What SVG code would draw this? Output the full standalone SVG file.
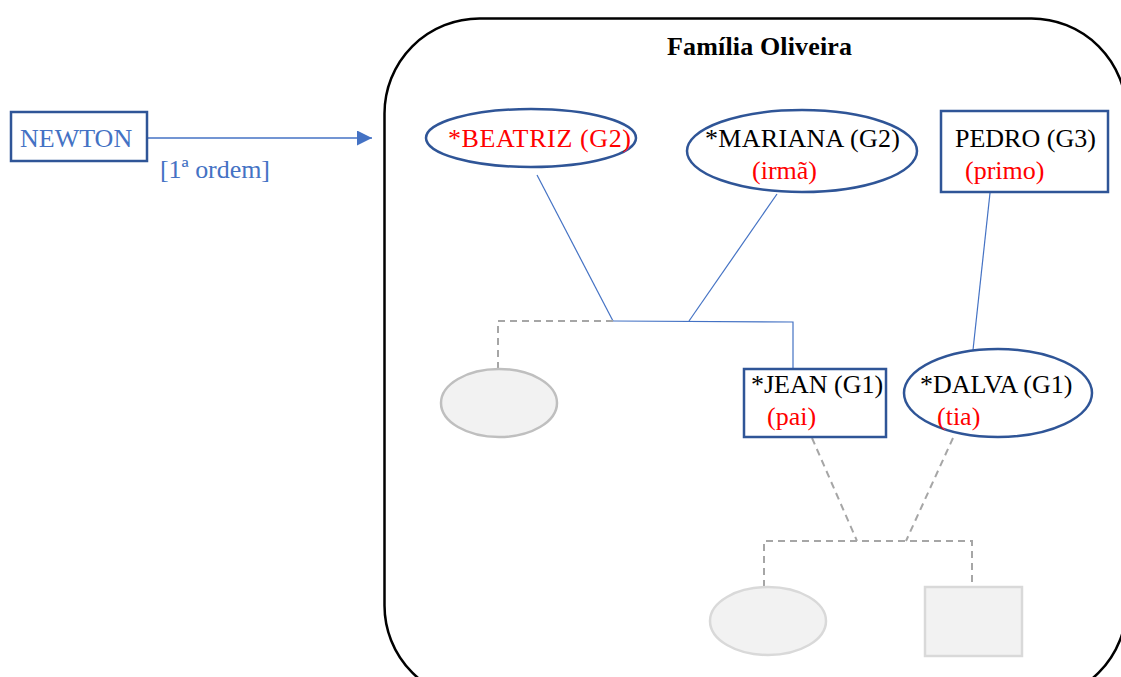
<svg xmlns="http://www.w3.org/2000/svg" width="1121" height="677" viewBox="0 0 1121 677">
<defs>
<marker id="arr" viewBox="0 0 10 10" refX="10" refY="5" markerWidth="15" markerHeight="15" markerUnits="userSpaceOnUse" orient="auto">
<path d="M0,0 L10,5 L0,10 z" fill="#4472C4"/>
</marker>
<style>
text{font-family:"Liberation Serif","Times New Roman",serif;font-size:26px;fill:#000}
.red{fill:#FF0000}
.blue{fill:#4472C4}
.node{fill:#fff;stroke:#2F5597;stroke-width:2.5}
.ghost{fill:#F2F2F2;stroke:#BFBFBF;stroke-width:2.5}
.ghost2{fill:#F2F2F2;stroke:#D9D9D9;stroke-width:2.5}
.link{fill:none;stroke:#4472C4;stroke-width:1.2}
.dash{fill:none;stroke:#A6A6A6;stroke-width:2;stroke-dasharray:7 5}
</style>
</defs>
<rect width="1121" height="677" fill="#fff"/>
<g id="familia">
<rect x="384.5" y="18.5" width="742" height="682" rx="95" ry="95" fill="none" stroke="#000" stroke-width="2.5"/>
<text x="667" y="55" font-weight="bold" textLength="185">Família Oliveira</text>
</g>
<g id="connectors">
<line x1="148" y1="138" x2="372" y2="138" stroke="#4472C4" stroke-width="1.5" marker-end="url(#arr)"/>
<text class="blue" x="160" y="178" font-family="Liberation Serif, serif" textLength="110">[1ª ordem]</text>
<polyline class="link" points="537,175 613,321"/>
<polyline class="link" points="777,194 689,321"/>
<polyline class="link" points="613,321 793,322 793,369"/>
<polyline class="link" points="990,193 973,350"/>
<polyline class="dash" points="613,321 498,321 498,369"/>
<polyline class="dash" points="812,438 857,541"/>
<polyline class="dash" points="953,438 906,541"/>
<polyline class="dash" points="764,587 764,541 972,541 972,587"/>
</g>
<g id="newton">
<rect class="node" x="11" y="112" width="136" height="49"/>
<text class="blue" x="20" y="147">NEWTON</text>
</g>
<g id="beatriz">
<ellipse class="node" cx="531" cy="138" rx="105" ry="29"/>
<text class="red" x="448" y="147" textLength="183">*BEATRIZ (G2)</text>
</g>
<g id="mariana">
<ellipse class="node" cx="802" cy="151" rx="115" ry="41"/>
<text x="705" y="147" textLength="195">*MARIANA (G2)</text>
<text class="red" x="752" y="179">(irmã)</text>
</g>
<g id="pedro">
<rect class="node" x="941" y="111" width="167" height="81"/>
<text x="955" y="147">PEDRO (G3)</text>
<text class="red" x="965" y="179">(primo)</text>
</g>
<g id="ghost-left">
<ellipse class="ghost" cx="499" cy="403" rx="58" ry="34"/>
</g>
<g id="jean">
<rect class="node" x="744" y="369" width="142" height="68"/>
<text x="751" y="393">*JEAN (G1)</text>
<text class="red" x="767" y="425">(pai)</text>
</g>
<g id="dalva">
<ellipse class="node" cx="998" cy="393" rx="94" ry="44"/>
<text x="920" y="393">*DALVA (G1)</text>
<text class="red" x="937" y="425">(tia)</text>
</g>
<g id="ghost-child-1">
<ellipse class="ghost2" cx="768" cy="621" rx="58" ry="34"/>
</g>
<g id="ghost-child-2">
<rect class="ghost2" x="925" y="587" width="97" height="69"/>
</g>
</svg>
